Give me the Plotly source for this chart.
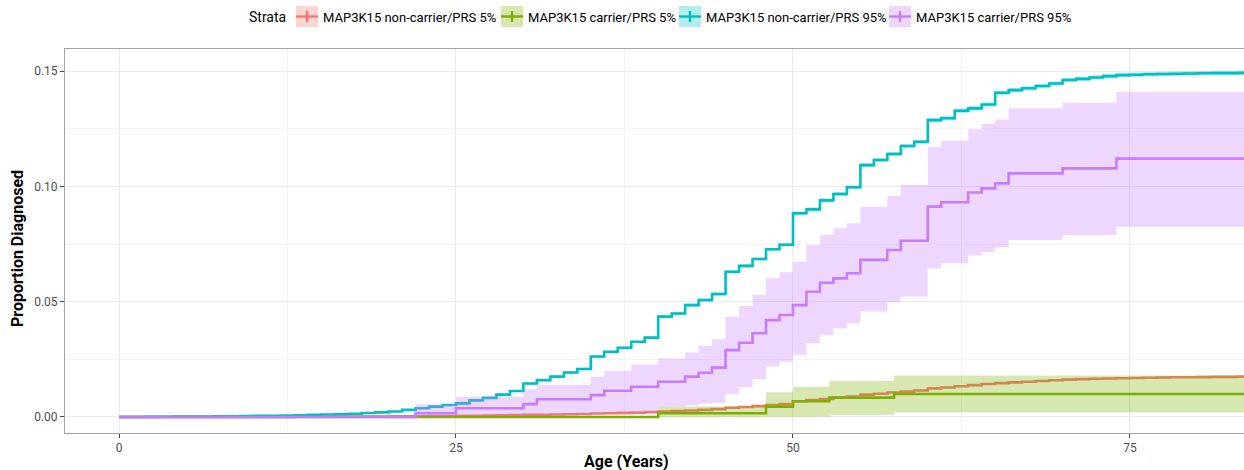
import plotly.graph_objects as go

# ---------------- data ----------------
strata = ["MAP3K15 non-carrier/PRS 5%", "MAP3K15 carrier/PRS 5%",
          "MAP3K15 non-carrier/PRS 95%", "MAP3K15 carrier/PRS 95%"]
colors = ["#F8766D", "#7CAE00", "#00BFC4", "#C77CFF"]

x_ticks = [0, 25, 50, 75]
y_ticks = [0.00, 0.05, 0.10, 0.15]
y_tick_text = ["0.00", "0.05", "0.10", "0.15"]

end_age = 85

# yearly ages 0..83
age_yearly = list(range(0, 84))

# MAP3K15 non-carrier / PRS 95%
cyan_est = [0.0, 0.00002, 0.00005, 0.0001, 0.00014, 0.00018, 0.00023, 0.00028, 0.00034, 0.0004,
            0.00047, 0.00055, 0.00065, 0.00077, 0.0009, 0.00105, 0.0012, 0.0014, 0.0017, 0.0020,
            0.0024, 0.0031, 0.0038, 0.0045, 0.0052, 0.0059, 0.0072, 0.0083, 0.0097, 0.0113,
            0.0145, 0.0160, 0.0175, 0.0193, 0.0208, 0.0262, 0.0283, 0.0300, 0.0326, 0.0344,
            0.0435, 0.0449, 0.0485, 0.0507, 0.0533, 0.0630, 0.0655, 0.0685, 0.0727, 0.0747,
            0.0883, 0.0900, 0.0939, 0.0967, 0.0996, 0.1092, 0.1114, 0.1140, 0.1175, 0.1193,
            0.1287, 0.1295, 0.1328, 0.1338, 0.1355, 0.1406, 0.1417, 0.1425, 0.1435, 0.1446,
            0.1461, 0.1466, 0.1472, 0.1478, 0.1482, 0.1484, 0.1486, 0.1487, 0.1488, 0.1489,
            0.1490, 0.1491, 0.1491, 0.1492]
cyan_lo = [0.0, 0.0, 0.0, 0.00005, 0.00009, 0.00013, 0.00018, 0.00023, 0.00029, 0.00035,
           0.00037, 0.00045, 0.00055, 0.00067, 0.0008, 0.00095, 0.0011, 0.0013, 0.0016, 0.0019,
           0.0021, 0.0028, 0.0035, 0.0042, 0.0049, 0.0056, 0.0069, 0.0080, 0.0094, 0.0110,
           0.0140, 0.0155, 0.0170, 0.0188, 0.0203, 0.0257, 0.0278, 0.0295, 0.0321, 0.0339,
           0.0428, 0.0442, 0.0478, 0.0500, 0.0526, 0.0623, 0.0648, 0.0678, 0.0720, 0.0740,
           0.0874, 0.0891, 0.0930, 0.0958, 0.0987, 0.1083, 0.1105, 0.1131, 0.1166, 0.1184,
           0.1277, 0.1285, 0.1318, 0.1328, 0.1345, 0.1396, 0.1407, 0.1415, 0.1425, 0.1436,
           0.1451, 0.1456, 0.1462, 0.1468, 0.1472, 0.1474, 0.1476, 0.1477, 0.1478, 0.1479,
           0.1480, 0.1481, 0.1481, 0.1482]
cyan_hi = [0.0, 0.00004, 0.0001, 0.00015, 0.00019, 0.00023, 0.00028, 0.00033, 0.00039, 0.00045,
           0.00057, 0.00065, 0.00075, 0.00087, 0.0010, 0.00115, 0.0013, 0.0015, 0.0018, 0.0021,
           0.0027, 0.0034, 0.0041, 0.0048, 0.0055, 0.0062, 0.0075, 0.0086, 0.0100, 0.0116,
           0.0150, 0.0165, 0.0180, 0.0198, 0.0213, 0.0267, 0.0288, 0.0305, 0.0331, 0.0349,
           0.0442, 0.0456, 0.0492, 0.0514, 0.0540, 0.0637, 0.0662, 0.0692, 0.0734, 0.0754,
           0.0892, 0.0909, 0.0948, 0.0976, 0.1005, 0.1101, 0.1123, 0.1149, 0.1184, 0.1202,
           0.1297, 0.1305, 0.1338, 0.1348, 0.1365, 0.1416, 0.1427, 0.1435, 0.1445, 0.1456,
           0.1471, 0.1476, 0.1482, 0.1488, 0.1492, 0.1494, 0.1496, 0.1497, 0.1498, 0.1499,
           0.1500, 0.1501, 0.1501, 0.1502]

# MAP3K15 non-carrier / PRS 5%
orange_est = [0.0, 0.0, 0.0, 0.00001, 0.00001, 0.00002, 0.00002, 0.00003, 0.00003, 0.00004,
              0.00005, 0.00006, 0.00007, 0.00008, 0.0001, 0.00012, 0.00014, 0.00016, 0.00019, 0.00022,
              0.00025, 0.0003, 0.00035, 0.0004, 0.00045, 0.0005, 0.00057, 0.00064, 0.00072, 0.0008,
              0.0009, 0.0010, 0.0011, 0.0012, 0.0013, 0.0015, 0.0016, 0.0018, 0.0019, 0.0021,
              0.0024, 0.0026, 0.0028, 0.0031, 0.0034, 0.0040, 0.0043, 0.0047, 0.0052, 0.0056,
              0.0068, 0.0073, 0.0078, 0.0084, 0.0089, 0.0097, 0.0101, 0.0106, 0.0110, 0.0115,
              0.0124, 0.0128, 0.0133, 0.0138, 0.0143, 0.0147, 0.0150, 0.0153, 0.0156, 0.0159,
              0.0162, 0.0164, 0.0166, 0.0167, 0.0168, 0.0169, 0.0170, 0.0171, 0.0172, 0.0172,
              0.0173, 0.0174, 0.0174, 0.0175]
orange_lo = [0.0, 0.0, 0.0, 0.0, 0.0, 0.0, 0.0, 0.00001, 0.00001, 0.00002,
             0.00003, 0.00004, 0.00005, 0.00006, 0.00008, 0.0001, 0.00012, 0.00014, 0.00017, 0.0002,
             0.00015, 0.0002, 0.00025, 0.0003, 0.00035, 0.0004, 0.00047, 0.00054, 0.00062, 0.0007,
             0.00075, 0.00085, 0.00095, 0.00105, 0.00115, 0.00135, 0.00145, 0.00165, 0.00175, 0.00195,
             0.0022, 0.0024, 0.0026, 0.0029, 0.0032, 0.0038, 0.0041, 0.0045, 0.0050, 0.0054,
             0.00655, 0.00705, 0.00755, 0.00815, 0.00865, 0.00945, 0.00985, 0.01035, 0.01075, 0.01125,
             0.0121, 0.0125, 0.0130, 0.0135, 0.0140, 0.0144, 0.0147, 0.0150, 0.0153, 0.0156,
             0.0159, 0.0161, 0.0163, 0.0164, 0.0165, 0.0166, 0.0167, 0.0168, 0.0169, 0.0169,
             0.0170, 0.0171, 0.0171, 0.0172]
orange_hi = [0.0, 0.00002, 0.00002, 0.00003, 0.00003, 0.00004, 0.00004, 0.00005, 0.00005, 0.00006,
             0.00007, 0.00008, 0.00009, 0.0001, 0.00012, 0.00014, 0.00016, 0.00018, 0.00021, 0.00024,
             0.00035, 0.0004, 0.00045, 0.0005, 0.00055, 0.0006, 0.00067, 0.00074, 0.00082, 0.0009,
             0.00105, 0.00115, 0.00125, 0.00135, 0.00145, 0.00165, 0.00175, 0.00195, 0.00205, 0.00225,
             0.0026, 0.0028, 0.0030, 0.0033, 0.0036, 0.0042, 0.0045, 0.0049, 0.0054, 0.0058,
             0.00705, 0.00755, 0.00805, 0.00865, 0.00915, 0.00995, 0.01035, 0.01085, 0.01125, 0.01175,
             0.0127, 0.0131, 0.0136, 0.0141, 0.0146, 0.0150, 0.0153, 0.0156, 0.0159, 0.0162,
             0.0165, 0.0167, 0.0169, 0.0170, 0.0171, 0.0172, 0.0173, 0.0174, 0.0175, 0.0175,
             0.0176, 0.0177, 0.0177, 0.0178]

# MAP3K15 carrier / PRS 95%
purple_age = [0, 22, 25, 30, 31, 35, 36, 38, 40, 42, 43, 44, 45, 46, 47, 48, 49, 50, 51, 52,
              53, 54, 55, 57, 58, 60, 61, 63, 64, 65, 66, 70, 74]
purple_est = [0.0, 0.0016, 0.0038, 0.0056, 0.0077, 0.0095, 0.0114, 0.0131, 0.0153, 0.0175,
              0.0192, 0.0214, 0.0290, 0.0322, 0.0363, 0.0420, 0.0442, 0.0485, 0.0543, 0.0582,
              0.0601, 0.0623, 0.0681, 0.0724, 0.0764, 0.0912, 0.0931, 0.0973, 0.0991, 0.1013,
              0.1056, 0.1078, 0.1120]
purple_lo = [0.0, 0.0003, 0.0006, 0.0008, 0.0010, 0.0015, 0.0020, 0.0022, 0.0045, 0.0050,
             0.0059, 0.0062, 0.0100, 0.0130, 0.0165, 0.0220, 0.0240, 0.0270, 0.0320, 0.0355,
             0.0384, 0.0406, 0.0457, 0.0497, 0.0522, 0.0644, 0.0666, 0.0700, 0.0715, 0.0735,
             0.0767, 0.0789, 0.0825]
purple_hi = [0.0, 0.0055, 0.0088, 0.0120, 0.0140, 0.0175, 0.0201, 0.0228, 0.0254, 0.0280,
             0.0309, 0.0337, 0.0435, 0.0481, 0.0529, 0.0601, 0.0628, 0.0673, 0.0746, 0.0789,
             0.0818, 0.0840, 0.0912, 0.0958, 0.1006, 0.1172, 0.1198, 0.1247, 0.1270, 0.1290,
             0.1338, 0.1362, 0.1410]

# MAP3K15 carrier / PRS 5%
green_age = [0, 40, 48, 50, 52.7, 57.5]
green_est = [0.0, 0.0016, 0.0045, 0.0068, 0.0084, 0.0100]
green_lo = [0.0, 0.0, 0.0001, 0.0001, 0.0009, 0.0020]
green_hi = [0.0, 0.0045, 0.0107, 0.0131, 0.0156, 0.0180]

series = [
    (age_yearly, orange_est, orange_lo, orange_hi),
    (green_age, green_est, green_lo, green_hi),
    (age_yearly, cyan_est, cyan_lo, cyan_hi),
    (purple_age, purple_est, purple_lo, purple_hi),
]


def ext(a, v):
    return list(a) + [end_age], list(v) + [v[-1]]


def rgba(hexc, a):
    h = hexc.lstrip("#")
    return "rgba(%d,%d,%d,%.2f)" % (int(h[0:2], 16), int(h[2:4], 16), int(h[4:6], 16), a)


fig = go.Figure()

# step curves first
for (ages, est, lo, hi), col, name in zip(series, colors, strata):
    xs, ys = ext(ages, est)
    fig.add_trace(go.Scatter(x=xs, y=ys, mode="lines", line=dict(color=col, width=2.6, shape="hv"),
                             name=name, showlegend=False, hoverinfo="skip"))

# confidence ribbons drawn on top (translucent)
for (ages, est, lo, hi), col, name in zip(series, colors, strata):
    xs, ylo = ext(ages, lo)
    _, yhi = ext(ages, hi)
    fig.add_trace(go.Scatter(x=xs, y=ylo, mode="lines", line=dict(width=0, shape="hv", color=col),
                             showlegend=False, hoverinfo="skip"))
    fig.add_trace(go.Scatter(x=xs, y=yhi, mode="lines", line=dict(width=0, shape="hv", color=col),
                             fill="tonexty", fillcolor=rgba(col, 0.3),
                             showlegend=False, hoverinfo="skip"))

# ---------------- layout ----------------
W, H = 1244, 470
ML, MR, MT, MB = 65, 0, 49, 37
PW, PH = W - ML - MR, H - MT - MB

FONT = "Roboto, 'Open Sans', sans-serif"
tick_font = dict(family=FONT, size=12, color="#4d4d4d")

fig.update_layout(
    width=W, height=H,
    margin=dict(l=ML, r=MR, t=MT, b=MB, autoexpand=False),
    paper_bgcolor="white", plot_bgcolor="white",
    showlegend=False,
    xaxis=dict(range=[-4.006, 83.46], tickvals=x_ticks, ticktext=[str(t) for t in x_ticks],
               showgrid=True, gridcolor="#ebebeb", gridwidth=1,
               minor=dict(showgrid=True, gridcolor="#f3f3f3", gridwidth=1, dtick=12.5, tick0=0),
               showline=True, linecolor="#a3a3a3", linewidth=1, mirror=True,
               ticks="outside", ticklen=4, tickcolor="#4d4d4d", tickwidth=1,
               tickfont=tick_font, zeroline=False, automargin=False),
    yaxis=dict(range=[-0.00694, 0.15954], tickvals=y_ticks, ticktext=y_tick_text,
               showgrid=True, gridcolor="#ebebeb", gridwidth=1,
               minor=dict(showgrid=True, gridcolor="#f3f3f3", gridwidth=1, dtick=0.025, tick0=0),
               showline=True, linecolor="#a3a3a3", linewidth=1, mirror=False,
               ticks="outside", ticklen=4, tickcolor="#4d4d4d", tickwidth=1,
               tickfont=tick_font, zeroline=False, automargin=False),
)


def px_x(px):
    # page pixel -> paper fraction
    return (px - ML) / PW


def px_y(py):
    return (H - MB - py) / PH


title_font = dict(family=FONT, size=16, color="black")
fig.add_annotation(text="<b>Age (Years)</b>", xref="paper", yref="paper",
                   x=px_x(626), y=px_y(461), xanchor="center", yanchor="middle",
                   showarrow=False, font=title_font)
fig.add_annotation(text="<b>Proportion Diagnosed</b>", xref="paper", yref="paper",
                   x=px_x(18), y=px_y(249), xanchor="center", yanchor="middle", textangle=-90,
                   showarrow=False, font=title_font)

# manual legend on top
leg_font = dict(family=FONT, size=13, color="black")
fig.add_annotation(text="Strata", xref="paper", yref="paper", x=px_x(247), y=px_y(17),
                   xanchor="left", yanchor="middle", showarrow=False,
                   font=dict(family=FONT, size=14, color="black"))
box_left = [296, 501, 679, 889]
label_left = [321, 526, 704, 914]
for bl, ll, col, name in zip(box_left, label_left, colors, strata):
    fig.add_shape(type="rect", xref="paper", yref="paper",
                  x0=px_x(bl), x1=px_x(bl + 22), y0=px_y(27), y1=px_y(6),
                  fillcolor=rgba(col, 0.3), line=dict(width=0), layer="above")
    fig.add_shape(type="line", xref="paper", yref="paper",
                  x0=px_x(bl), x1=px_x(bl + 22), y0=px_y(16.5), y1=px_y(16.5),
                  line=dict(color=col, width=2.4), layer="above")
    fig.add_shape(type="line", xref="paper", yref="paper",
                  x0=px_x(bl + 11), x1=px_x(bl + 11), y0=px_y(22), y1=px_y(11),
                  line=dict(color=col, width=2.4), layer="above")
    fig.add_annotation(text=name, xref="paper", yref="paper", x=px_x(ll), y=px_y(17),
                       xanchor="left", yanchor="middle", showarrow=False, font=leg_font)

fig.write_html("out.html", config={"displayModeBar": False},
               post_script="document.body.style.margin='0';document.body.style.overflow='hidden';")
